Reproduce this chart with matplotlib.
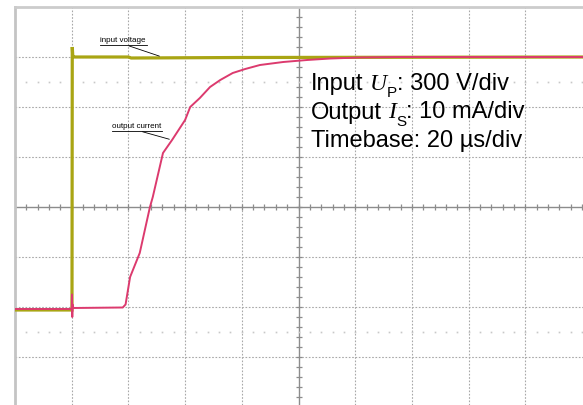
import matplotlib
matplotlib.use("Agg")
import matplotlib.pyplot as plt
import matplotlib.transforms as mtransforms
import numpy as np

plt.rcParams['font.family'] = ['Liberation Sans', 'DejaVu Sans']

# Data in screen divisions (x: 20 us/div, y: scope divisions)
voltage_t = [0.0, 1.0, 1.005, 1.01, 1.02, 1.05, 2.0, 2.05, 4.0, 10.0]
voltage_v = [1.94, 1.94, 1.94, 7.2, 7.0, 7.0, 7.0, 6.98, 6.99, 7.0]

current_t = [0.0, 1.0, 1.005, 1.01, 1.015, 1.03, 1.9, 1.95, 2.03, 2.2, 2.38, 2.43, 2.61,
             2.77, 3.0, 3.09, 3.26, 3.44, 3.62, 3.84, 4.06, 4.32, 4.73, 5.15, 5.56,
             6.08, 6.79, 10.0]
current_i = [1.96, 1.96, 2.25, 1.8, 2.05, 1.98, 1.99, 2.05, 2.6, 3.08, 4.0, 4.2, 5.08,
             5.34, 5.74, 6.0, 6.18, 6.4, 6.54, 6.68, 6.76, 6.84, 6.9, 6.94, 6.97,
             6.99, 7.0, 7.0]

W, H = 583, 405
fig = plt.figure(figsize=(W / 100, H / 100), dpi=100)
div_x = 56.7
div_y = 50.0
left_px, top_px = 15, 7
ax = fig.add_axes([left_px / W, 0, (W - left_px) / W, (H - top_px) / H])
ax.set_xlim(0, (W - left_px) / div_x)
ax.set_ylim(8 - (H - top_px) / div_y, 8)

for s in ['right', 'bottom']:
    ax.spines[s].set_visible(False)
ax.spines['left'].set_color('#c4c4c4')
ax.spines['left'].set_linewidth(2)
ax.spines['top'].set_color('#cccccc')
ax.spines['top'].set_linewidth(2)
ax.set_xticks([])
ax.set_yticks([])

grid_c = '#a8a8a8'
for xv in range(1, 10):
    if xv != 5:
        ax.axvline(xv, color=grid_c, lw=0.8, ls=(0, (1.5, 1.5)), zorder=1)
for yv in range(1, 8):
    if yv != 4:
        ax.axhline(yv, color=grid_c, lw=0.8, ls=(0, (1.5, 1.5)), zorder=1)
ax.axvline(5, color='#8c8c8c', lw=1, zorder=1)
ax.axhline(4, color='#8c8c8c', lw=1, zorder=1)
mx = np.arange(0.2, 10.01, 0.2)
my = np.arange(0.2, 8.0, 0.2)
ax.plot(mx, np.full_like(mx, 4), ls='none', marker='|', ms=5, mew=0.9, color='#8c8c8c', zorder=1)
ax.plot(np.full_like(my, 5), my, ls='none', marker='_', ms=5, mew=0.9, color='#8c8c8c', zorder=1)
for yr in [1.5, 6.5]:
    ax.plot(mx, np.full_like(mx, yr), ls='none', marker='s', ms=1.2, mew=0, color='#c8c8c8', zorder=1)

ax.plot(voltage_t, voltage_v, color='#a9a514', lw=2.3, zorder=3, solid_joinstyle='miter')
ax.plot(current_t, current_i, color='#dc3a6e', lw=1.4, zorder=4)

# labels with underline and leader
def label(text, x, y, x0, x1, tip):
    ax.text(x, y, text, fontsize=5.8, ha='left', va='bottom', zorder=5)
    ax.plot([x0, x1], [y - 0.02, y - 0.02], color='black', lw=0.6, zorder=5)
    ax.annotate('', xy=tip, xytext=((x0 + x1) / 2 + 0.05, y - 0.02),
                arrowprops=dict(arrowstyle='-', color='black', lw=0.6), zorder=5)

label('input voltage', (100 - 15) / div_x, (407 - 44) / div_y,
      (100 - 15) / div_x, (147 - 15) / div_x, ((162 - 15) / div_x, (407 - 57) / div_y))
label('output current', (112 - 15) / div_x, (407 - 130) / div_y,
      (112 - 15) / div_x, (162 - 15) / div_x, ((172 - 15) / div_x, (407 - 140) / div_y))

# info text built from pieces: (text, family, style, size, baseline drop px, gap px)
fs = 17
renderer = fig.canvas.get_renderer()
def rich_line(x_px, base_px, pieces):
    x = x_px
    for txt, fam, style, size, drop, gap in pieces:
        x += gap
        t = fig.text(x / W, (H - base_px - drop) / H, txt, fontsize=size,
                     family=fam, style=style, va='baseline', ha='left', zorder=6)
        bb = t.get_window_extent(renderer=renderer)
        x = bb.x1

sans = ['Liberation Sans', 'DejaVu Sans']
serif = ['Liberation Serif', 'DejaVu Serif']
rich_line(311, 90, [('Input', sans, 'normal', fs, 0, 0),
                    ('U', serif, 'italic', fs, 0, 6),
                    ('P', sans, 'normal', 11, 7, 0),
                    (': 300 V/div', sans, 'normal', fs, 0, 0)])
rich_line(311, 118.5, [('Output', sans, 'normal', fs, 0, 0),
                       ('I', serif, 'italic', fs, 0, 6),
                       ('S', sans, 'normal', 11, 7, 0),
                       (': 10 mA/div', sans, 'normal', fs, 0, 0)])
rich_line(311, 147, [('Timebase: 20 µs/div', sans, 'normal', fs, 0, 0)])

fig.savefig('out.png', dpi=100)
